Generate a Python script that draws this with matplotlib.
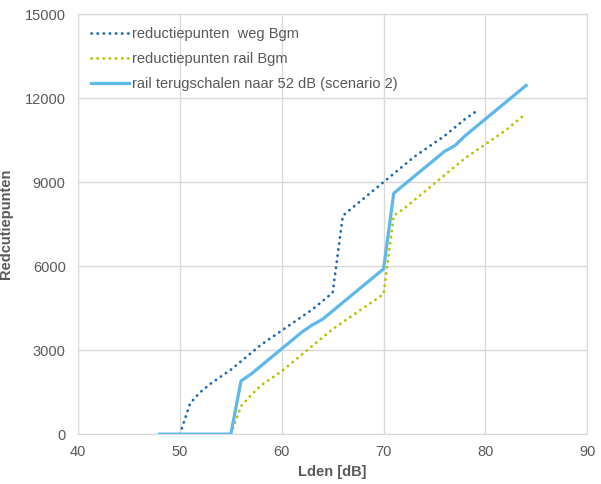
import matplotlib.pyplot as plt
import numpy as np

plt.rcParams['font.family'] = ['Liberation Sans', 'DejaVu Sans']

# Lden (dB) and reduction points per series
lden_weg = np.arange(50, 80)
punten_weg = [0, 1100, 1500, 1800, 2050, 2300, 2600, 2900, 3200, 3450,
              3700, 3950, 4200, 4450, 4750, 5050, 7800, 8100, 8400, 8700,
              9000, 9300, 9600, 9900, 10150, 10400, 10650, 10950, 11250, 11500]

lden_rail = np.arange(55, 85)
punten_rail = [0, 1000, 1400, 1750, 2000, 2250, 2550, 2850, 3150, 3450,
               3750, 4000, 4250, 4500, 4750, 5000, 7800, 8050, 8350, 8650,
               8950, 9250, 9550, 9850, 10100, 10350, 10600, 10850, 11150, 11450]

lden_scen2 = np.arange(48, 85)
punten_scen2 = [0, 0, 0, 0, 0, 0, 0, 0, 1900, 2150,
                2450, 2750, 3050, 3350, 3650, 3900, 4100, 4400, 4700, 5000,
                5300, 5600, 5900, 8600, 8900, 9200, 9500, 9800, 10100, 10300,
                10650, 10950, 11250, 11550, 11850, 12150, 12450]

labels = ['reductiepunten  weg Bgm', 'reductiepunten rail Bgm',
          'rail terugschalen naar 52 dB (scenario 2)']

grey = '#595959'
fig = plt.figure(figsize=(6.01, 4.84), dpi=100)
ax = fig.add_axes([0.13, 0.103, 0.847, 0.868])

dots = (0, (0.1, 2.1))
ax.plot(lden_weg, punten_weg, linestyle=dots, dash_capstyle='round',
        color='#1F6BB4', lw=2.0, label=labels[0])
ax.plot(lden_rail, punten_rail, linestyle=dots, dash_capstyle='round',
        color='#BDC200', lw=2.0, label=labels[1])
ax.plot(lden_scen2, punten_scen2, color='#5DB8EC', lw=2.3, label=labels[2])

ax.set_xlim(40, 90)
ax.set_ylim(0, 15000)
ax.set_xticks(np.arange(40, 91, 10))
ax.set_yticks(np.arange(0, 15001, 3000))
ax.grid(True, color='#D9D9D9', lw=1)
ax.set_axisbelow(True)
for s in ax.spines.values():
    s.set_color('#D9D9D9')
ax.tick_params(length=0, labelsize=10.5, labelcolor=grey)
ax.tick_params(axis='y', pad=9)
ax.tick_params(axis='x', pad=8)

ax.set_xlabel('Lden [dB]', fontsize=10.5, fontweight='bold', color=grey)
ax.set_ylabel('Redcutiepunten', fontsize=10.5, fontweight='bold', color=grey)
ax.yaxis.set_label_coords(-0.128, 0.5)

leg = ax.legend(loc='upper left', frameon=False, fontsize=10.5, handlelength=2.6,
                handletextpad=0.2, labelspacing=0.75, bbox_to_anchor=(0.0, 1.0))
for t in leg.get_texts():
    t.set_color(grey)

fig.savefig('out.png', dpi=100)
